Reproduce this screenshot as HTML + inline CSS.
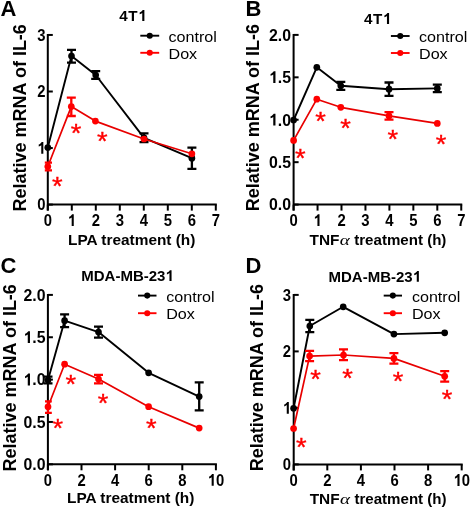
<!DOCTYPE html>
<html><head><meta charset="utf-8"><style>
html,body{margin:0;padding:0;background:#fff;}
svg{display:block;will-change:transform;}
text{font-family:"Liberation Sans", sans-serif;fill:#000;}
.tk{font-size:16.5px;font-weight:bold;}
.xt{font-size:15.4px;white-space:pre;font-weight:bold;}
.yt{font-size:18px;font-weight:bold;}
.let{font-size:22px;font-weight:bold;}
.ti{font-size:15.6px;font-weight:bold;}
.lg{font-size:15.5px;}
.al{font-family:"Liberation Serif",serif;font-style:italic;font-weight:normal;font-size:18px;}
.as{font-size:29px;font-weight:normal;fill:#ff0000;stroke:#ff0000;stroke-width:0.4px;}
.h1{fill:transparent;}</style></head><body>
<svg width="472" height="509" viewBox="0 0 472 509">
<rect width="472" height="509" fill="#fff"/>
<path d="M47.8 34V210.6M46.8 204.6H216.8" stroke="#000" stroke-width="2.0" fill="none"/>
<path d="M47.8 204.6H52.8" stroke="#000" stroke-width="2.0"/>
<text transform="translate(45.5 210.4) scale(0.9 1)" text-anchor="end" class="tk">0</text>
<path d="M47.8 148.05H52.8" stroke="#000" stroke-width="2.0"/>
<text transform="translate(45.5 153.85000000000002) scale(0.9 1)" text-anchor="end" class="tk"><tspan class="h1">1</tspan></text>
<path d="M47.8 91.5H52.8" stroke="#000" stroke-width="2.0"/>
<text transform="translate(45.5 97.3) scale(0.9 1)" text-anchor="end" class="tk">2</text>
<path d="M47.8 34.95000000000002H52.8" stroke="#000" stroke-width="2.0"/>
<text transform="translate(45.5 40.750000000000014) scale(0.9 1)" text-anchor="end" class="tk">3</text>
<path d="M47.8 204.6V210.6" stroke="#000" stroke-width="2.0"/>
<text transform="translate(47.8 226.1) scale(0.9 1)" text-anchor="middle" class="tk">0</text>
<path d="M71.8 204.6V210.6" stroke="#000" stroke-width="2.0"/>
<text transform="translate(71.8 226.1) scale(0.9 1)" text-anchor="middle" class="tk"><tspan class="h1">1</tspan></text>
<path d="M95.8 204.6V210.6" stroke="#000" stroke-width="2.0"/>
<text transform="translate(95.8 226.1) scale(0.9 1)" text-anchor="middle" class="tk">2</text>
<path d="M119.8 204.6V210.6" stroke="#000" stroke-width="2.0"/>
<text transform="translate(119.8 226.1) scale(0.9 1)" text-anchor="middle" class="tk">3</text>
<path d="M143.8 204.6V210.6" stroke="#000" stroke-width="2.0"/>
<text transform="translate(143.8 226.1) scale(0.9 1)" text-anchor="middle" class="tk">4</text>
<path d="M167.8 204.6V210.6" stroke="#000" stroke-width="2.0"/>
<text transform="translate(167.8 226.1) scale(0.9 1)" text-anchor="middle" class="tk">5</text>
<path d="M191.8 204.6V210.6" stroke="#000" stroke-width="2.0"/>
<text transform="translate(191.8 226.1) scale(0.9 1)" text-anchor="middle" class="tk">6</text>
<path d="M215.8 204.6V210.6" stroke="#000" stroke-width="2.0"/>
<text transform="translate(215.8 226.1) scale(0.9 1)" text-anchor="middle" class="tk">7</text>
<text x="68" y="245.3" class="xt">LPA treatment (h)</text>
<text transform="translate(26 117.8) rotate(-90)" text-anchor="middle" class="yt">Relative mRNA of IL-6</text>
<text x="0.5" y="16.2" class="let">A</text>
<text x="133.2" y="21" text-anchor="middle" class="ti" style="font-size:15.2px;letter-spacing:0.6px">4T<tspan class="h1">1</tspan></text>
<path d="M140.3 35.7H159.2" stroke="#000" stroke-width="1.9"/><circle cx="149.75" cy="35.7" r="3.0500000000000003" fill="#000"/>
<path d="M140.3 52.8H159.2" stroke="#ff0000" stroke-width="1.9"/><circle cx="149.75" cy="52.8" r="3.0500000000000003" fill="#ff0000"/>
<text transform="translate(168.5 41.900000000000006) scale(1.04 1)" class="lg">control</text>
<text transform="translate(168.5 59.0) scale(1.04 1)" class="lg">Dox</text>
<path d="M47.8 147.5 L71.5 56.1 L95.7 75 L144 137.8 L191.9 158.2" stroke="#000" stroke-width="1.9" fill="none" stroke-linejoin="round"/>
<circle cx="47.8" cy="147.5" r="3.35" fill="#000"/>
<path d="M71.5 49.9V62.6M67.0 49.9H76.0M67.0 62.6H76.0" stroke="#000" stroke-width="2.3" fill="none"/>
<circle cx="71.5" cy="56.1" r="3.35" fill="#000"/>
<path d="M95.7 71.1V78.8M91.2 71.1H100.2M91.2 78.8H100.2" stroke="#000" stroke-width="2.3" fill="none"/>
<circle cx="95.7" cy="75" r="3.35" fill="#000"/>
<path d="M144 133.3V142.2M139.5 133.3H148.5M139.5 142.2H148.5" stroke="#000" stroke-width="2.3" fill="none"/>
<circle cx="144" cy="137.8" r="3.35" fill="#000"/>
<path d="M191.9 147.7V168.9M187.4 147.7H196.4M187.4 168.9H196.4" stroke="#000" stroke-width="2.3" fill="none"/>
<circle cx="191.9" cy="158.2" r="3.35" fill="#000"/>
<path d="M47.8 166.5 L71.3 106.6 L95.4 121.1 L144 139 L191.9 153.8" stroke="#e80000" stroke-width="1.7" fill="none" stroke-linejoin="round"/>
<path d="M47.8 162.7V170.3M44.8 162.7H52.0M44.8 170.3H52.0" stroke="#ff0000" stroke-width="2.3" fill="none"/>
<circle cx="47.8" cy="166.5" r="3.35" fill="#ff0000"/>
<path d="M71.3 97.6V116M66.8 97.6H75.8M66.8 116H75.8" stroke="#ff0000" stroke-width="2.3" fill="none"/>
<circle cx="71.3" cy="106.6" r="3.35" fill="#ff0000"/>
<circle cx="95.4" cy="121.1" r="3.35" fill="#ff0000"/>
<circle cx="144" cy="139" r="3.35" fill="#ff0000"/>
<circle cx="191.9" cy="153.8" r="3.35" fill="#ff0000"/>
<text transform="translate(57.2 194.9) scale(0.94 0.87)" text-anchor="middle" class="as">*</text>
<text transform="translate(76 141.9) scale(0.94 0.87)" text-anchor="middle" class="as">*</text>
<text transform="translate(102.3 149.5) scale(0.94 0.87)" text-anchor="middle" class="as">*</text>
<path d="M293.6 33.9V210.6M292.6 204.6H462.25" stroke="#000" stroke-width="2.0" fill="none"/>
<path d="M293.6 204.6H298.6" stroke="#000" stroke-width="2.0"/>
<text transform="translate(291 210.4) scale(0.96 1)" text-anchor="end" class="tk">0.0</text>
<path d="M293.6 162.175H298.6" stroke="#000" stroke-width="2.0"/>
<text transform="translate(291 167.97500000000002) scale(0.96 1)" text-anchor="end" class="tk">0.5</text>
<path d="M293.6 119.75H298.6" stroke="#000" stroke-width="2.0"/>
<text transform="translate(291 125.55) scale(0.96 1)" text-anchor="end" class="tk"><tspan class="h1">1</tspan>.0</text>
<path d="M293.6 77.325H298.6" stroke="#000" stroke-width="2.0"/>
<text transform="translate(291 83.125) scale(0.96 1)" text-anchor="end" class="tk"><tspan class="h1">1</tspan>.5</text>
<path d="M293.6 34.900000000000006H298.6" stroke="#000" stroke-width="2.0"/>
<text transform="translate(291 40.7) scale(0.96 1)" text-anchor="end" class="tk">2.0</text>
<path d="M293.6 204.6V210.6" stroke="#000" stroke-width="2.0"/>
<text transform="translate(293.6 226.1) scale(0.9 1)" text-anchor="middle" class="tk">0</text>
<path d="M317.55 204.6V210.6" stroke="#000" stroke-width="2.0"/>
<text transform="translate(317.55 226.1) scale(0.9 1)" text-anchor="middle" class="tk"><tspan class="h1">1</tspan></text>
<path d="M341.5 204.6V210.6" stroke="#000" stroke-width="2.0"/>
<text transform="translate(341.5 226.1) scale(0.9 1)" text-anchor="middle" class="tk">2</text>
<path d="M365.45000000000005 204.6V210.6" stroke="#000" stroke-width="2.0"/>
<text transform="translate(365.45000000000005 226.1) scale(0.9 1)" text-anchor="middle" class="tk">3</text>
<path d="M389.40000000000003 204.6V210.6" stroke="#000" stroke-width="2.0"/>
<text transform="translate(389.40000000000003 226.1) scale(0.9 1)" text-anchor="middle" class="tk">4</text>
<path d="M413.35 204.6V210.6" stroke="#000" stroke-width="2.0"/>
<text transform="translate(413.35 226.1) scale(0.9 1)" text-anchor="middle" class="tk">5</text>
<path d="M437.3 204.6V210.6" stroke="#000" stroke-width="2.0"/>
<text transform="translate(437.3 226.1) scale(0.9 1)" text-anchor="middle" class="tk">6</text>
<path d="M461.25 204.6V210.6" stroke="#000" stroke-width="2.0"/>
<text transform="translate(461.25 226.1) scale(0.9 1)" text-anchor="middle" class="tk">7</text>
<text x="309.5" y="245.3" class="xt">TNF</text>
<text transform="translate(339.84 245.3) scale(1.06 0.86)" class="al">α</text>
<text transform="translate(350.04 245.3) scale(0.98 1)" class="xt"> treatment (h)</text>
<text transform="translate(259.2 117.6) rotate(-90)" text-anchor="middle" class="yt">Relative mRNA of IL-6</text>
<text x="245.5" y="16" class="let">B</text>
<text x="377.9" y="24" text-anchor="middle" class="ti" style="font-size:15.2px;letter-spacing:0.6px">4T<tspan class="h1">1</tspan></text>
<path d="M390.9 36H409.6" stroke="#000" stroke-width="1.9"/><circle cx="400.25" cy="36" r="3.0500000000000003" fill="#000"/>
<path d="M390.9 53H409.6" stroke="#ff0000" stroke-width="1.9"/><circle cx="400.25" cy="53" r="3.0500000000000003" fill="#ff0000"/>
<text transform="translate(419 42.2) scale(1.04 1)" class="lg">control</text>
<text transform="translate(419 59.2) scale(1.04 1)" class="lg">Dox</text>
<path d="M293.6 120 L316.8 67.3 L340.8 85.8 L389 89.2 L437.3 88.4" stroke="#000" stroke-width="1.9" fill="none" stroke-linejoin="round"/>
<circle cx="293.6" cy="120" r="3.35" fill="#000"/>
<circle cx="316.8" cy="67.3" r="3.35" fill="#000"/>
<path d="M340.8 81.9V89.8M336.3 81.9H345.3M336.3 89.8H345.3" stroke="#000" stroke-width="2.3" fill="none"/>
<circle cx="340.8" cy="85.8" r="3.35" fill="#000"/>
<path d="M389 82.5V95.9M384.5 82.5H393.5M384.5 95.9H393.5" stroke="#000" stroke-width="2.3" fill="none"/>
<circle cx="389" cy="89.2" r="3.35" fill="#000"/>
<path d="M437.3 84.6V92.2M432.8 84.6H441.8M432.8 92.2H441.8" stroke="#000" stroke-width="2.3" fill="none"/>
<circle cx="437.3" cy="88.4" r="3.35" fill="#000"/>
<path d="M293.6 140.4 L316.8 99.2 L340.8 107.3 L389 115.9 L437.3 123.4" stroke="#e80000" stroke-width="1.7" fill="none" stroke-linejoin="round"/>
<circle cx="293.6" cy="140.4" r="3.35" fill="#ff0000"/>
<circle cx="316.8" cy="99.2" r="3.35" fill="#ff0000"/>
<circle cx="340.8" cy="107.3" r="3.35" fill="#ff0000"/>
<path d="M389 112.2V119.7M384.5 112.2H393.5M384.5 119.7H393.5" stroke="#ff0000" stroke-width="2.3" fill="none"/>
<circle cx="389" cy="115.9" r="3.35" fill="#ff0000"/>
<circle cx="437.3" cy="123.4" r="3.35" fill="#ff0000"/>
<text transform="translate(300.3 167.0) scale(0.94 0.87)" text-anchor="middle" class="as">*</text>
<text transform="translate(320.5 129.7) scale(0.94 0.87)" text-anchor="middle" class="as">*</text>
<text transform="translate(345.6 137.3) scale(0.94 0.87)" text-anchor="middle" class="as">*</text>
<text transform="translate(392.9 147.7) scale(0.94 0.87)" text-anchor="middle" class="as">*</text>
<text transform="translate(441 152.6) scale(0.94 0.87)" text-anchor="middle" class="as">*</text>
<path d="M47.9 293.9V470.3M46.9 464.3H216.9" stroke="#000" stroke-width="2.0" fill="none"/>
<path d="M47.9 464.3H52.9" stroke="#000" stroke-width="2.0"/>
<text transform="translate(45.5 470.1) scale(0.96 1)" text-anchor="end" class="tk">0.0</text>
<path d="M47.9 421.95H52.9" stroke="#000" stroke-width="2.0"/>
<text transform="translate(45.5 427.75) scale(0.96 1)" text-anchor="end" class="tk">0.5</text>
<path d="M47.9 379.6H52.9" stroke="#000" stroke-width="2.0"/>
<text transform="translate(45.5 385.40000000000003) scale(0.96 1)" text-anchor="end" class="tk"><tspan class="h1">1</tspan>.0</text>
<path d="M47.9 337.25H52.9" stroke="#000" stroke-width="2.0"/>
<text transform="translate(45.5 343.05) scale(0.96 1)" text-anchor="end" class="tk"><tspan class="h1">1</tspan>.5</text>
<path d="M47.9 294.9H52.9" stroke="#000" stroke-width="2.0"/>
<text transform="translate(45.5 300.7) scale(0.96 1)" text-anchor="end" class="tk">2.0</text>
<path d="M47.9 464.3V470.3" stroke="#000" stroke-width="2.0"/>
<text transform="translate(47.9 485.8) scale(0.9 1)" text-anchor="middle" class="tk">0</text>
<path d="M81.5 464.3V470.3" stroke="#000" stroke-width="2.0"/>
<text transform="translate(81.5 485.8) scale(0.9 1)" text-anchor="middle" class="tk">2</text>
<path d="M115.1 464.3V470.3" stroke="#000" stroke-width="2.0"/>
<text transform="translate(115.1 485.8) scale(0.9 1)" text-anchor="middle" class="tk">4</text>
<path d="M148.70000000000002 464.3V470.3" stroke="#000" stroke-width="2.0"/>
<text transform="translate(148.70000000000002 485.8) scale(0.9 1)" text-anchor="middle" class="tk">6</text>
<path d="M182.3 464.3V470.3" stroke="#000" stroke-width="2.0"/>
<text transform="translate(182.3 485.8) scale(0.9 1)" text-anchor="middle" class="tk">8</text>
<path d="M215.9 464.3V470.3" stroke="#000" stroke-width="2.0"/>
<text transform="translate(215.9 485.8) scale(0.9 1)" text-anchor="middle" class="tk"><tspan class="h1">1</tspan>0</text>
<text x="67" y="503.2" class="xt">LPA treatment (h)</text>
<text transform="translate(15.9 377.8) rotate(-90)" text-anchor="middle" class="yt">Relative mRNA of IL-6</text>
<text x="0.5" y="273.3" class="let">C</text>
<text x="127.5" y="281" text-anchor="middle" class="ti" style="font-size:15px">MDA-MB-23<tspan class="h1">1</tspan></text>
<path d="M138 295.6H156.5" stroke="#000" stroke-width="1.9"/><circle cx="147.25" cy="295.6" r="3.0500000000000003" fill="#000"/>
<path d="M138 313.2H156.5" stroke="#ff0000" stroke-width="1.9"/><circle cx="147.25" cy="313.2" r="3.0500000000000003" fill="#ff0000"/>
<text transform="translate(166.2 301.8) scale(1.04 1)" class="lg">control</text>
<text transform="translate(166.2 319.4) scale(1.04 1)" class="lg">Dox</text>
<path d="M48 380 L64.6 320.7 L98.5 332.1 L148.6 372.8 L199.2 396.6" stroke="#000" stroke-width="1.9" fill="none" stroke-linejoin="round"/>
<path d="M48 376.6V383.3M43.5 376.6H52.5M43.5 383.3H52.5" stroke="#000" stroke-width="2.3" fill="none"/>
<circle cx="48" cy="380" r="3.35" fill="#000"/>
<path d="M64.6 314.4V327.1M60.099999999999994 314.4H69.1M60.099999999999994 327.1H69.1" stroke="#000" stroke-width="2.3" fill="none"/>
<circle cx="64.6" cy="320.7" r="3.35" fill="#000"/>
<path d="M98.5 326.6V337.6M94.0 326.6H103.0M94.0 337.6H103.0" stroke="#000" stroke-width="2.3" fill="none"/>
<circle cx="98.5" cy="332.1" r="3.35" fill="#000"/>
<circle cx="148.6" cy="372.8" r="3.35" fill="#000"/>
<path d="M199.2 382.4V410.3M194.7 382.4H203.7M194.7 410.3H203.7" stroke="#000" stroke-width="2.3" fill="none"/>
<circle cx="199.2" cy="396.6" r="3.35" fill="#000"/>
<path d="M48 406.8 L64.6 364.2 L98.5 379 L148.6 406.7 L199.2 428.1" stroke="#e80000" stroke-width="1.7" fill="none" stroke-linejoin="round"/>
<path d="M48 401.4V412.8M45.0 401.4H51.8M45.0 412.8H51.8" stroke="#ff0000" stroke-width="2.3" fill="none"/>
<circle cx="48" cy="406.8" r="3.35" fill="#ff0000"/>
<circle cx="64.6" cy="364.2" r="3.35" fill="#ff0000"/>
<path d="M98.5 374.9V383.4M94.0 374.9H103.0M94.0 383.4H103.0" stroke="#ff0000" stroke-width="2.3" fill="none"/>
<circle cx="98.5" cy="379" r="3.35" fill="#ff0000"/>
<circle cx="148.6" cy="406.7" r="3.35" fill="#ff0000"/>
<circle cx="199.2" cy="428.1" r="3.35" fill="#ff0000"/>
<text transform="translate(57.8 437.1) scale(0.94 0.87)" text-anchor="middle" class="as">*</text>
<text transform="translate(70.8 393.1) scale(0.94 0.87)" text-anchor="middle" class="as">*</text>
<text transform="translate(103 411.70000000000005) scale(0.94 0.87)" text-anchor="middle" class="as">*</text>
<text transform="translate(151.2 437.40000000000003) scale(0.94 0.87)" text-anchor="middle" class="as">*</text>
<path d="M293.7 293.9V470.4M292.7 464.4H462.7" stroke="#000" stroke-width="2.0" fill="none"/>
<path d="M293.7 464.4H298.7" stroke="#000" stroke-width="2.0"/>
<text transform="translate(291 470.2) scale(0.9 1)" text-anchor="end" class="tk">0</text>
<path d="M293.7 407.9H298.7" stroke="#000" stroke-width="2.0"/>
<text transform="translate(291 413.7) scale(0.9 1)" text-anchor="end" class="tk"><tspan class="h1">1</tspan></text>
<path d="M293.7 351.4H298.7" stroke="#000" stroke-width="2.0"/>
<text transform="translate(291 357.2) scale(0.9 1)" text-anchor="end" class="tk">2</text>
<path d="M293.7 294.9H298.7" stroke="#000" stroke-width="2.0"/>
<text transform="translate(291 300.7) scale(0.9 1)" text-anchor="end" class="tk">3</text>
<path d="M293.7 464.4V470.4" stroke="#000" stroke-width="2.0"/>
<text transform="translate(293.7 485.9) scale(0.9 1)" text-anchor="middle" class="tk">0</text>
<path d="M327.3 464.4V470.4" stroke="#000" stroke-width="2.0"/>
<text transform="translate(327.3 485.9) scale(0.9 1)" text-anchor="middle" class="tk">2</text>
<path d="M360.9 464.4V470.4" stroke="#000" stroke-width="2.0"/>
<text transform="translate(360.9 485.9) scale(0.9 1)" text-anchor="middle" class="tk">4</text>
<path d="M394.5 464.4V470.4" stroke="#000" stroke-width="2.0"/>
<text transform="translate(394.5 485.9) scale(0.9 1)" text-anchor="middle" class="tk">6</text>
<path d="M428.1 464.4V470.4" stroke="#000" stroke-width="2.0"/>
<text transform="translate(428.1 485.9) scale(0.9 1)" text-anchor="middle" class="tk">8</text>
<path d="M461.7 464.4V470.4" stroke="#000" stroke-width="2.0"/>
<text transform="translate(461.7 485.9) scale(0.9 1)" text-anchor="middle" class="tk"><tspan class="h1">1</tspan>0</text>
<text x="309.7" y="503.5" class="xt">TNF</text>
<text transform="translate(340.04 503.5) scale(1.06 0.86)" class="al">α</text>
<text transform="translate(350.24 503.5) scale(0.98 1)" class="xt"> treatment (h)</text>
<text transform="translate(263.3 377.6) rotate(-90)" text-anchor="middle" class="yt">Relative mRNA of IL-6</text>
<text x="245.5" y="273" class="let">D</text>
<text x="374.8" y="281.8" text-anchor="middle" class="ti" style="font-size:15px">MDA-MB-23<tspan class="h1">1</tspan></text>
<path d="M383.7 295.6H402" stroke="#000" stroke-width="1.9"/><circle cx="392.85" cy="295.6" r="3.0500000000000003" fill="#000"/>
<path d="M383.7 313.2H402" stroke="#ff0000" stroke-width="1.9"/><circle cx="392.85" cy="313.2" r="3.0500000000000003" fill="#ff0000"/>
<text transform="translate(411.9 301.8) scale(1.04 1)" class="lg">control</text>
<text transform="translate(411.9 319.4) scale(1.04 1)" class="lg">Dox</text>
<path d="M293.6 408.3 L309.8 326 L343.2 306.8 L393.9 334.1 L444.7 332.8" stroke="#000" stroke-width="1.9" fill="none" stroke-linejoin="round"/>
<circle cx="293.6" cy="408.3" r="3.35" fill="#000"/>
<path d="M309.8 319.8V332.2M305.3 319.8H314.3M305.3 332.2H314.3" stroke="#000" stroke-width="2.3" fill="none"/>
<circle cx="309.8" cy="326" r="3.35" fill="#000"/>
<circle cx="343.2" cy="306.8" r="3.35" fill="#000"/>
<circle cx="393.9" cy="334.1" r="3.35" fill="#000"/>
<circle cx="444.7" cy="332.8" r="3.35" fill="#000"/>
<path d="M293.6 428.5 L309.6 356.1 L343.5 355 L393.9 358.4 L444.7 376.3" stroke="#e80000" stroke-width="1.7" fill="none" stroke-linejoin="round"/>
<circle cx="293.6" cy="428.5" r="3.35" fill="#ff0000"/>
<path d="M309.6 350.8V361.2M305.1 350.8H314.1M305.1 361.2H314.1" stroke="#ff0000" stroke-width="2.3" fill="none"/>
<circle cx="309.6" cy="356.1" r="3.35" fill="#ff0000"/>
<path d="M343.5 349.4V360.2M339.0 349.4H348.0M339.0 360.2H348.0" stroke="#ff0000" stroke-width="2.3" fill="none"/>
<circle cx="343.5" cy="355" r="3.35" fill="#ff0000"/>
<path d="M393.9 353.1V363.7M389.4 353.1H398.4M389.4 363.7H398.4" stroke="#ff0000" stroke-width="2.3" fill="none"/>
<circle cx="393.9" cy="358.4" r="3.35" fill="#ff0000"/>
<path d="M444.7 371.1V381.6M440.2 371.1H449.2M440.2 381.6H449.2" stroke="#ff0000" stroke-width="2.3" fill="none"/>
<circle cx="444.7" cy="376.3" r="3.35" fill="#ff0000"/>
<text transform="translate(301.2 456.3) scale(0.94 0.87)" text-anchor="middle" class="as">*</text>
<text transform="translate(315.5 387.5) scale(0.94 0.87)" text-anchor="middle" class="as">*</text>
<text transform="translate(347.5 386.90000000000003) scale(0.94 0.87)" text-anchor="middle" class="as">*</text>
<text transform="translate(398.1 390.0) scale(0.94 0.87)" text-anchor="middle" class="as">*</text>
<text transform="translate(447.1 407.8) scale(0.94 0.87)" text-anchor="middle" class="as">*</text>
<path d="M43.33 153.85V142.04H41.69C41.1 143.29 39.91 144.2 38.72 144.61V146.59C39.76 146.26 40.65 145.77 41.25 145.19V153.85Z" fill="#000"/>
<path d="M73.76 226.1V214.29H72.12C71.53 215.54 70.34 216.45 69.15 216.86V218.84C70.19 218.51 71.08 218.02 71.68 217.44V226.1Z" fill="#000"/>
<path d="M144.38 21.0V10.12H142.71C142.1 11.27 140.88 12.11 139.67 12.49V14.31C140.73 14.01 141.64 13.55 142.25 13.02V21.0Z" fill="#000"/>
<path d="M275.47 125.55V113.74H273.73C273.1 114.99 271.83 115.9 270.56 116.31V118.29C271.67 117.96 272.62 117.47 273.26 116.89V125.55Z" fill="#000"/>
<path d="M275.47 83.12V71.31H273.73C273.1 72.56 271.83 73.47 270.56 73.89V75.86C271.67 75.53 272.62 75.04 273.26 74.46V83.12Z" fill="#000"/>
<path d="M319.51 226.1V214.29H317.87C317.28 215.54 316.09 216.45 314.9 216.86V218.84C315.94 218.51 316.83 218.02 317.43 217.44V226.1Z" fill="#000"/>
<path d="M389.08 24.0V13.12H387.41C386.8 14.27 385.58 15.11 384.37 15.49V17.31C385.43 17.01 386.34 16.55 386.95 16.02V24.0Z" fill="#000"/>
<path d="M29.97 385.4V373.59H28.23C27.6 374.84 26.33 375.75 25.06 376.16V378.14C26.17 377.81 27.12 377.31 27.76 376.74V385.4Z" fill="#000"/>
<path d="M29.97 343.05V331.24H28.23C27.6 332.49 26.33 333.4 25.06 333.81V335.79C26.17 335.46 27.12 334.96 27.76 334.39V343.05Z" fill="#000"/>
<path d="M213.73 485.8V473.99H212.09C211.5 475.24 210.31 476.15 209.12 476.56V478.54C210.16 478.21 211.05 477.71 211.65 477.14V485.8Z" fill="#000"/>
<path d="M171.56 281V270.26H169.91C169.31 271.4 168.11 272.23 166.91 272.6V274.4C167.96 274.1 168.86 273.65 169.46 273.12V281Z" fill="#000"/>
<path d="M288.83 413.7V401.89H287.19C286.6 403.14 285.41 404.05 284.22 404.46V406.44C285.26 406.11 286.15 405.62 286.75 405.04V413.7Z" fill="#000"/>
<path d="M459.53 485.9V474.09H457.89C457.3 475.34 456.11 476.25 454.92 476.66V478.64C455.96 478.31 456.85 477.81 457.45 477.24V485.9Z" fill="#000"/>
<path d="M418.86 281.8V271.06H417.21C416.61 272.2 415.41 273.02 414.21 273.4V275.2C415.26 274.9 416.16 274.45 416.76 273.92V281.8Z" fill="#000"/></svg></body></html>
